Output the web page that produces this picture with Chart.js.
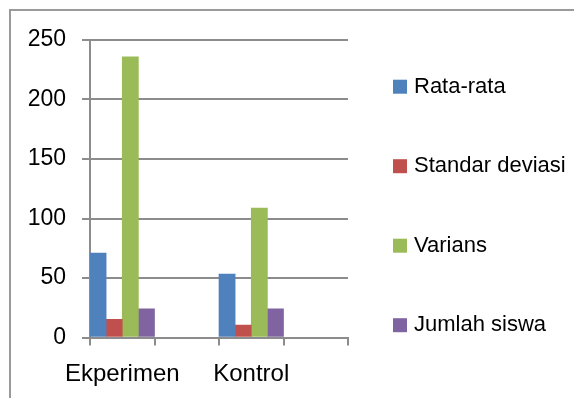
<!DOCTYPE html>
<html>
<head>
<meta charset="utf-8">
<script src="https://cdn.jsdelivr.net/npm/chart.js@4/dist/chart.umd.min.js"></script>
<style>
  html, body { margin: 0; padding: 0; background: #fff; }
  canvas { display: block; }
</style>
</head>
<body>
<canvas id="chart" width="574" height="398"></canvas>
<script>
// Groups on the x axis (the blank slots are empty columns of the sheet)
const categories = ['Ekperimen', '', 'Kontrol', ''];

// One array per statistic, aligned with the categories above
const rataRata    = [70.9, null, 53.2, null];
const standarDev  = [15.3, null, 10.4, null];
const varians     = [235.9, null, 108.8, null];
const jumlahSiswa = [24,   null, 24,   null];

const seriesNames = ['Rata-rata', 'Standar deviasi', 'Varians', 'Jumlah siswa'];
const seriesColors = ['#4F81BD', '#C0504D', '#9BBB59', '#8064A2'];

// Value axis ticks
const yMin = 0, yMax = 250, yStep = 50;

const FONT = 'Liberation Sans, Arial, sans-serif';
const GRID = '#8c8c8c';

// Outer frame of the chart area (left and top edges only are visible)
const framePlugin = {
  id: 'frame',
  beforeDraw(chart) {
    const ctx = chart.ctx;
    ctx.save();
    ctx.strokeStyle = '#9a9a9a';
    ctx.lineWidth = 2;
    ctx.beginPath();
    ctx.moveTo(10, chart.height);
    ctx.lineTo(10, 10);
    ctx.lineTo(chart.width, 10);
    ctx.stroke();
    ctx.restore();
  }
};

// Legend on the right, one entry per dataset, evenly spread down the side
const sideLegend = {
  id: 'sideLegend',
  afterDraw(chart, args, opts) {
    const ctx = chart.ctx;
    ctx.save();
    ctx.font = opts.fontSize + 'px ' + FONT;
    ctx.textBaseline = 'middle';
    ctx.textAlign = 'left';
    chart.data.datasets.forEach((ds, i) => {
      const cy = opts.top + i * opts.step;
      ctx.fillStyle = ds.backgroundColor;
      ctx.fillRect(opts.x, cy - opts.box / 2, opts.box, opts.box);
      ctx.fillStyle = '#000';
      ctx.fillText(ds.label, opts.x + opts.box + opts.gap, cy);
    });
    ctx.restore();
  }
};

const seriesValues = [rataRata, standarDev, varians, jumlahSiswa];

new Chart(document.getElementById('chart'), {
  type: 'bar',
  data: {
    labels: categories,
    datasets: seriesValues.map((vals, i) => ({
      label: seriesNames[i],
      data: vals,
      backgroundColor: seriesColors[i],
      borderWidth: 0,
      categoryPercentage: 1,
      barPercentage: 1
    }))
  },
  options: {
    responsive: false,
    animation: false,
    devicePixelRatio: 1,
    layout: { padding: { left: 0, right: 226, top: 40, bottom: 0 } },
    plugins: {
      legend: { display: false },
      tooltip: { enabled: false },
      sideLegend: { x: 393, top: 86.7, step: 79.5, box: 14, gap: 7, fontSize: 22 }
    },
    scales: {
      x: {
        offset: true,
        afterFit(scale) { scale.height = 60.5; },
        grid: {
          offset: true,
          drawOnChartArea: false,
          drawTicks: true,
          tickLength: 8,
          color: GRID,
          lineWidth: 2
        },
        border: { display: true, color: GRID, width: 2 },
        ticks: {
          color: '#000',
          padding: 14,
          maxRotation: 0,
          autoSkip: false,
          font: { family: FONT, size: 24 }
        }
      },
      y: {
        min: yMin,
        max: yMax,
        afterFit(scale) { scale.width = 90; },
        grid: {
          color: GRID,
          lineWidth: 2,
          tickLength: 8,
          drawTicks: true
        },
        border: { display: true, color: GRID, width: 2 },
        ticks: {
          stepSize: yStep,
          color: '#000',
          padding: 16,
          font: { family: FONT, size: 23 }
        }
      }
    }
  },
  plugins: [framePlugin, sideLegend]
});
</script>
</body>
</html>
